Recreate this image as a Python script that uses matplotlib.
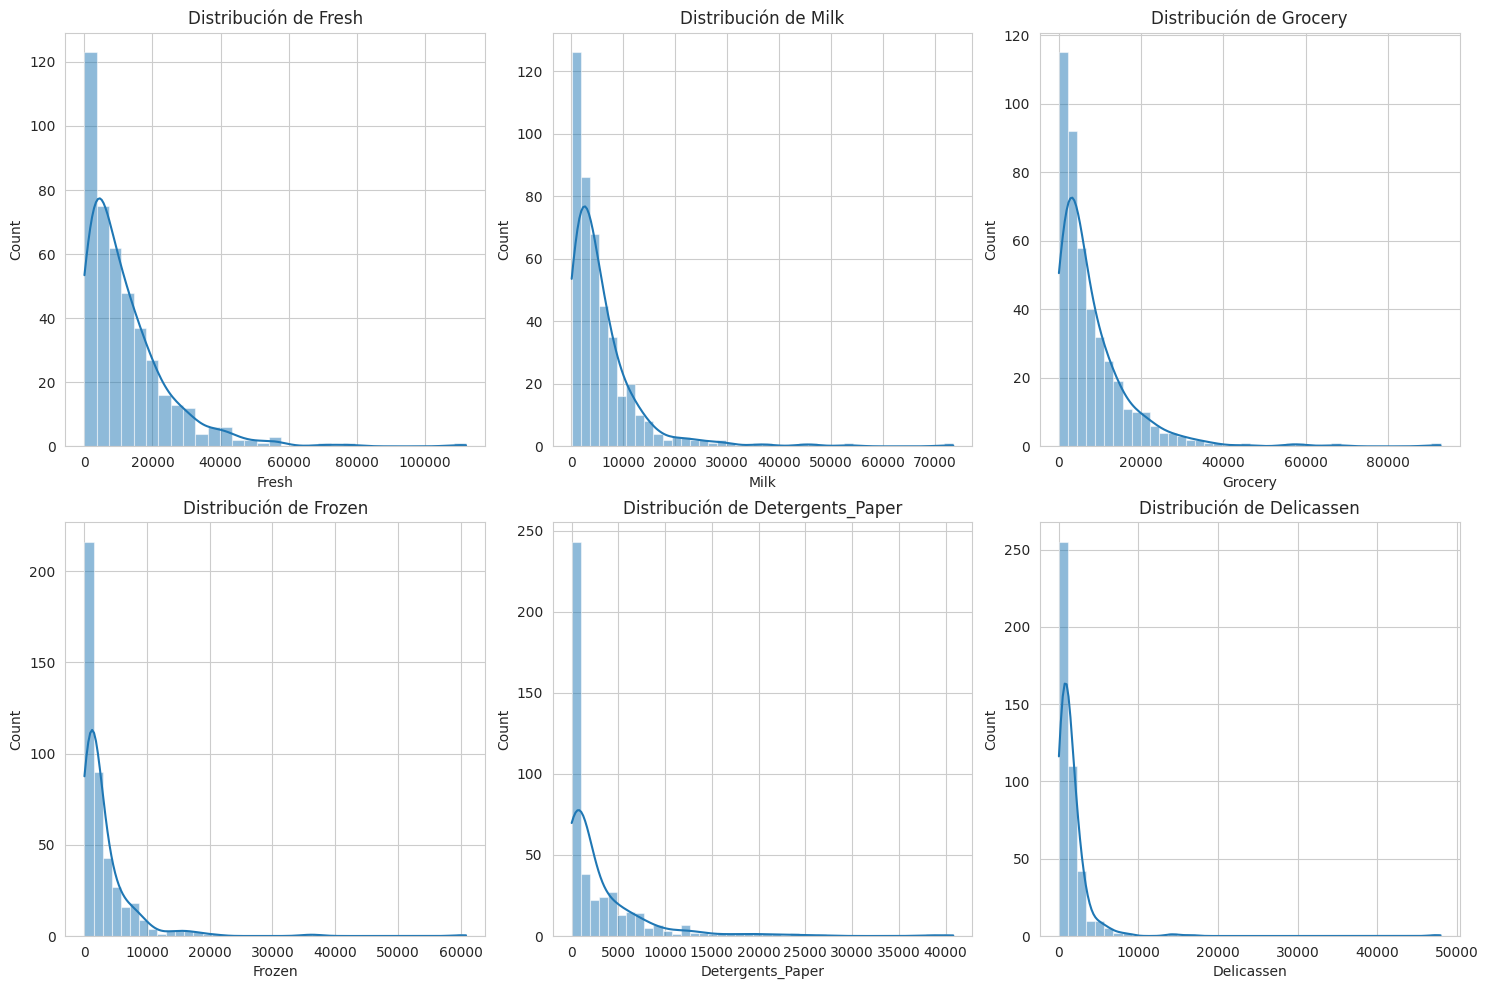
import numpy as np
import matplotlib
matplotlib.use('Agg')
import matplotlib.pyplot as plt
import seaborn as sns

columnas = ['Fresh', 'Milk', 'Grocery', 'Frozen', 'Detergents_Paper', 'Delicassen']

# minimo y maximo de cada columna (bordes de los histogramas)
minimos = [3, 55, 3, 25, 3, 3]
maximos = [112151, 73498, 92780, 60869, 40827, 47943]

# conteo de clientes en cada barra
conteos_fresh = [123, 75, 62, 48, 37, 27, 16, 13, 12, 4, 6, 6, 2, 2, 1, 3,
                 0, 0, 0, 1, 0, 1, 0, 0, 0, 0, 0, 0, 0, 0, 1]
conteos_milk = [126, 86, 68, 45, 35, 16, 20, 10, 8, 4, 2, 3, 3, 2, 2, 1, 2,
                1, 0, 0, 1, 1, 0, 0, 0, 1, 1, 0, 0, 0, 1,
                0, 0, 0, 0, 0, 0, 0, 0, 0, 0, 1]
conteos_grocery = [115, 92, 58, 40, 32, 25, 19, 11, 10, 10, 6, 4, 4, 3, 2, 2, 1, 1,
                   0, 0, 1, 0, 0, 0, 0, 1, 1, 0, 0, 0, 1,
                   0, 0, 0, 0, 0, 0, 0, 0, 0, 0, 1]
conteos_frozen = [216, 90, 43, 27, 16, 18, 9, 4, 1, 3, 3, 3, 2, 1, 1,
                  0, 0, 0, 0, 0, 0, 0, 0, 0, 1, 1, 0, 0, 0, 0,
                  0, 0, 0, 0, 0, 0, 0, 0, 0, 0, 0, 1]
conteos_detergents = [243, 38, 22, 24, 27, 13, 15, 14, 5, 7, 3, 1, 7, 2, 2, 1,
                      1, 1, 1, 2, 1, 1, 1, 0, 2, 0, 0, 1,
                      0, 0, 0, 0, 0, 0, 0, 0, 0, 0, 0, 1, 0, 1]
conteos_delicassen = [255, 110, 42, 10, 10, 5, 2, 2, 0, 0, 0, 0, 2, 0, 1,
                      0, 0, 0, 0, 0, 0, 0, 0, 0, 0, 0, 0, 0, 0, 0,
                      0, 0, 0, 0, 0, 0, 0, 0, 0, 0, 0, 1]

conteos = [conteos_fresh, conteos_milk, conteos_grocery,
           conteos_frozen, conteos_detergents, conteos_delicassen]


def kde_desde_hist(bordes, cuentas, n_puntos=200):
    # kde gaussiana (regla de Scott) a partir del histograma, escalada a conteos
    centros = (bordes[:-1] + bordes[1:]) / 2
    ancho = bordes[1] - bordes[0]
    n = cuentas.sum()
    media = np.average(centros, weights=cuentas)
    var = np.average((centros - media) ** 2, weights=cuentas) * n / (n - 1) + ancho ** 2 / 12
    h = np.sqrt(var) * n ** (-1 / 5)
    s = np.sqrt(h ** 2 + ancho ** 2 / 24)
    x = np.linspace(bordes[0], bordes[-1], n_puntos)
    z = (x[:, None] - centros[None, :]) / s
    dens = (cuentas[None, :] * np.exp(-0.5 * z ** 2)).sum(axis=1) / (n * s * np.sqrt(2 * np.pi))
    return x, dens * n * ancho


sns.set_style('whitegrid')
fig, axes = plt.subplots(2, 3, figsize=(14.89, 9.89), dpi=100)

for i, col in enumerate(columnas):
    ax = axes.flat[i]
    cuentas = np.array(conteos[i], dtype=float)
    bordes = np.linspace(minimos[i], maximos[i], len(cuentas) + 1)
    centros = (bordes[:-1] + bordes[1:]) / 2

    ax.hist(centros, bins=bordes, weights=cuentas, color='#1f77b4',
            alpha=0.5, edgecolor='white', linewidth=0.8)
    xk, yk = kde_desde_hist(bordes, cuentas)
    ax.plot(xk, yk, color='#1f77b4', linewidth=1.5)

    ax.set_title(f'Distribución de {col}')
    ax.set_xlabel(col)
    ax.set_ylabel('Count')

plt.tight_layout(pad=0.7)
plt.savefig('out.png', dpi=100)
